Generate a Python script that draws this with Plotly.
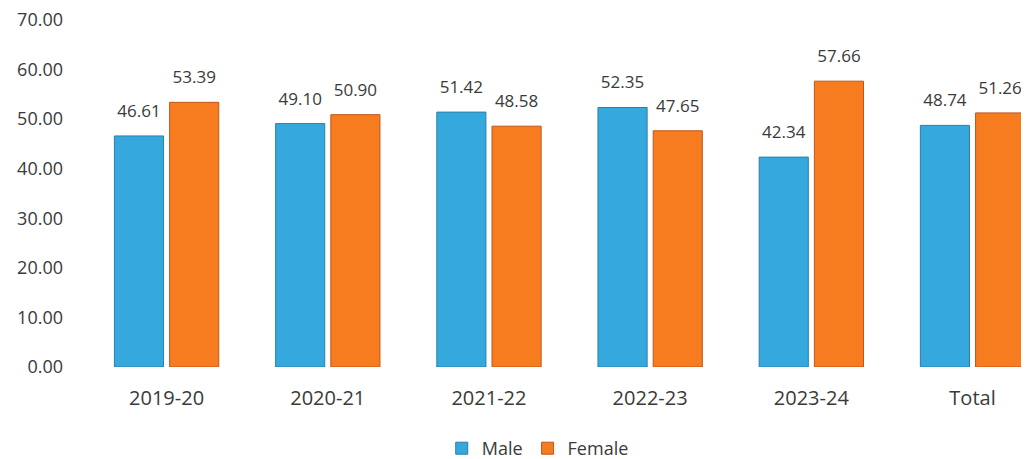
import plotly.graph_objects as go

categories = ["2019-20", "2020-21", "2021-22", "2022-23", "2023-24", "Total"]
male = [46.61, 49.10, 51.42, 52.35, 42.34, 48.74]
female = [53.39, 50.90, 48.58, 47.65, 57.66, 51.26]
y_ticks = [0, 10, 20, 30, 40, 50, 60, 70]

font_family = "Open Sans, Lato, DejaVu Sans, sans-serif"
text_color = "#3a3a3a"

series = [
    ("Male", male, "#35a9de", "#2a7fa8"),
    ("Female", female, "#f77b1f", "#c0561a"),
]

fig = go.Figure()
for name, vals, col, edge in series:
    fig.add_trace(go.Bar(
        name=name, x=categories, y=vals, offsetgroup=name,
        marker=dict(color=col, line=dict(color=edge, width=1)),
    ))
for name, vals, col, edge in series:
    fig.add_trace(go.Scatter(
        x=categories, y=vals, offsetgroup=name, mode="markers+text",
        marker=dict(size=22, opacity=0), showlegend=False, hoverinfo="skip",
        text=[f"{v:.2f}" for v in vals], textposition="top center",
        textfont=dict(size=17, color=text_color, family=font_family),
        cliponaxis=False,
    ))

fig.update_layout(
    width=1029, height=459,
    margin=dict(l=78, r=0, t=12, b=100),
    paper_bgcolor="white", plot_bgcolor="white",
    barmode="group", bargap=0.315, bargroupgap=0.11,
    scattermode="group", scattergap=0.315,
    font=dict(family=font_family, size=17, color=text_color),
    showlegend=True,
    legend=dict(orientation="h", x=0.475, xanchor="center", y=-0.236, yanchor="middle",
                font=dict(size=18, color=text_color), itemwidth=30,
                tracegroupgap=0, traceorder="normal"),
)
fig.update_xaxes(range=[-0.5, 5.4], showgrid=False, showline=False, zeroline=False,
                 ticks="", tickfont=dict(size=20, color=text_color),
                 automargin=False, ticklabelstandoff=17)
fig.update_yaxes(range=[0, 70], tickvals=y_ticks, ticktext=[f"{v:.2f}" for v in y_ticks],
                 showgrid=False, zeroline=False, showline=False, ticks="",
                 tickfont=dict(size=18, color=text_color), ticklabelstandoff=22,
                 ticklabeloverflow="allow", automargin=False)

fig.write_html("out.html")
